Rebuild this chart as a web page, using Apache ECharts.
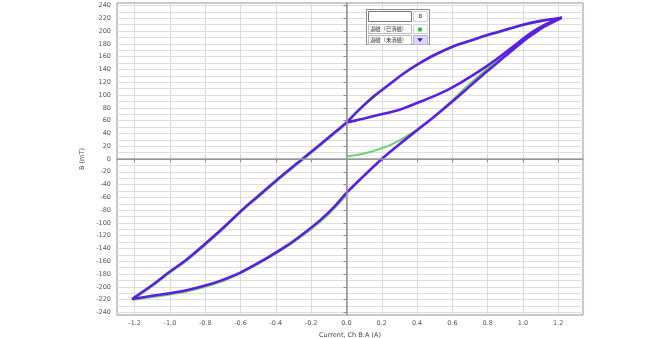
<!DOCTYPE html>
<html><head><meta charset="utf-8">
<script src="https://cdn.jsdelivr.net/npm/echarts@6/dist/echarts.min.js"></script>
<style>html,body{margin:0;padding:0;background:#fff}#c{width:668px;height:338px}</style>
</head><body><div id="c"></div>
<script>
const xTickLabels = [-1.2, -1.0, -0.8, -0.6, -0.4, -0.2, 0.0, 0.2, 0.4, 0.6, 0.8, 1.0, 1.2];
const yTickLabels = [-240, -220, -200, -180, -160, -140, -120, -100, -80, -60, -40, -20, 0, 20, 40, 60, 80, 100, 120, 140, 160, 180, 200, 220, 240];
const yGridValues = [-240, -230, -220, -210, -200, -190, -180, -170, -160, -150, -140, -130, -120, -110, -100, -90, -80, -70, -60, -50, -40, -30, -20, -10, 0, 10, 20, 30, 40, 50, 60, 70, 80, 90, 100, 110, 120, 130, 140, 150, 160, 170, 180, 190, 200, 210, 220, 230, 240];
const legendTitle = 'B';
const seriesNames = ['退磁（已消磁）', '退磁（未消磁）'];
const xName = 'Current, Ch B:A (A)';
const yName = 'B (mT)';

// 已消磁 (demagnetized) : initial curve from origin, then the loop
const greenData = [
  [0, 4], [0.05, 6], [0.1, 8.5], [0.15, 12], [0.2, 17], [0.25, 22], [0.34, 35.5], [0.42, 50], [0.5, 67], [0.55, 79], [0.6, 92], [0.7, 118], [0.8, 142], [0.9, 165], [1.0, 188], [1.1, 206], [1.22, 221],
  [1.1, 215], [1.0, 209], [0.9, 201], [0.8, 193], [0.7, 184], [0.6, 175], [0.5, 162], [0.4, 147], [0.3, 129], [0.2, 107], [0.1, 84], [0, 56], [-0.1, 32], [-0.25, -2], [-0.4, -36], [-0.5, -60], [-0.6, -83], [-0.72, -115], [-0.9, -158], [-1.0, -178], [-1.1, -199], [-1.21, -220],
  [-1.1, -216], [-1.0, -212], [-0.9, -207], [-0.8, -200], [-0.7, -191], [-0.6, -179], [-0.5, -164], [-0.4, -148], [-0.3, -130], [-0.2, -110], [-0.1, -86], [0, -57]
];

// 未消磁 (not demagnetized) : starts from remanence, then the loop
const purpleData = [
  [0, 57], [0.05, 60], [0.1, 63.5], [0.19, 69.5], [0.3, 77], [0.44, 92], [0.55, 105], [0.65, 120], [0.75, 137], [0.85, 156], [0.95, 177], [1.05, 198], [1.13, 211], [1.22, 221],
  [1.1, 216], [1.0, 210], [0.9, 202], [0.81, 195], [0.7, 185], [0.62, 178], [0.5, 163], [0.41, 149], [0.32, 133], [0.24, 116], [0.15, 97], [0.06, 74], [0, 57], [-0.1, 34], [-0.25, 0], [-0.4, -34], [-0.5, -58], [-0.58, -77], [-0.72, -113], [-0.9, -156], [-1.0, -176], [-1.1, -197], [-1.215, -219],
  [-1.1, -214], [-1.0, -210], [-0.9, -205], [-0.8, -198], [-0.72, -191], [-0.62, -180], [-0.53, -167], [-0.44, -153], [-0.34, -136], [-0.25, -118], [-0.15, -96], [-0.07, -75], [0, -53], [0.1, -26], [0.2, 0], [0.3, 23], [0.4, 45], [0.5, 67], [0.6, 90], [0.7, 114], [0.8, 138], [0.9, 161], [1.0, 184], [1.06, 196], [1.12, 207], [1.22, 221]
];

const GREEN = '#6fd16a';
const PURPLE = '#5a1fe0';
const FONT = 'DejaVu Sans';

const chart = echarts.init(document.getElementById('c'), null, {renderer: 'canvas'});
chart.setOption({
  animation: false,
  backgroundColor: '#ffffff',
  grid: {left: 117, right: 85, top: 3, bottom: 23, show: true, containLabel: false, outerBoundsMode: 'none',
    borderColor: '#8c8fa3', borderWidth: 1, backgroundColor: '#fff'},
  xAxis: [{
    type: 'value', min: -1.3, max: 1.34,
    name: xName, nameLocation: 'middle', nameGap: 15,
    nameTextStyle: {fontFamily: FONT, fontSize: 6.5, color: '#444'},
    axisLine: {show: true, lineStyle: {color: '#8c8fa3', width: 1}},
    axisTick: {show: true, length: 3, customValues: xTickLabels, lineStyle: {color: '#888'}},
    axisLabel: {customValues: xTickLabels, fontFamily: FONT, fontSize: 6.5, color: '#555', margin: 5,
      formatter: v => v.toFixed(1)},
    splitLine: {show: true, lineStyle: {color: '#d9d9d9', width: 1}}
  }],
  yAxis: [{
    type: 'value', min: -244, max: 244,
    name: yName, nameLocation: 'middle', nameGap: 29, nameRotate: 90,
    nameTextStyle: {fontFamily: FONT, fontSize: 6.5, color: '#444'},
    axisLine: {show: true, lineStyle: {color: '#8c8fa3', width: 1}},
    axisTick: {show: true, length: 3, customValues: yTickLabels, lineStyle: {color: '#888'}},
    axisLabel: {customValues: yTickLabels, fontFamily: FONT, fontSize: 6.5, color: '#555', margin: 6},
    splitLine: {show: false}
  }, {
    type: 'value', min: -244, max: 244, position: 'left',
    axisLine: {show: false}, axisLabel: {show: false},
    axisTick: {show: false, customValues: yGridValues},
    splitLine: {show: true, lineStyle: {color: '#dedede', width: 1}}
  }],
  series: [{
    type: 'line', name: 'zero', data: [], silent: true, z: 1,
    markLine: {
      silent: true, symbol: 'none', label: {show: false}, animation: false,
      lineStyle: {color: '#9a9a9a', width: 1.5, type: 'solid'},
      data: [{xAxis: 0}, {yAxis: 0}]
    }
  }, {
    type: 'line', name: seriesNames[0], data: greenData, showSymbol: false, smooth: 0.3,
    lineStyle: {color: GREEN, width: 2}, itemStyle: {color: GREEN}, z: 2
  }, {
    type: 'line', name: seriesNames[1], data: purpleData, showSymbol: false, smooth: 0.3,
    lineStyle: {color: PURPLE, width: 2.6}, itemStyle: {color: PURPLE}, z: 3
  }],
  graphic: [
    {type: 'rect', shape: {x: 366.5, y: 9.5, width: 63, height: 35}, style: {fill: '#fff', stroke: '#8a8a8a', lineWidth: 1}, z: 10},
    {type: 'rect', shape: {x: 368.5, y: 11.5, width: 43, height: 10}, style: {fill: '#fff', stroke: '#777', lineWidth: 1}, z: 11},
    {type: 'rect', shape: {x: 413.5, y: 11.5, width: 14, height: 10}, style: {fill: '#fff', stroke: '#d0d0d0', lineWidth: 1}, z: 11},
    {type: 'text', x: 420.5, y: 16.8, style: {text: legendTitle, fontFamily: FONT, fontSize: 5.5, fill: '#333', align: 'center', verticalAlign: 'middle'}, z: 12},
    {type: 'rect', shape: {x: 368.5, y: 24.5, width: 43, height: 9}, style: {fill: '#fff', stroke: '#bdbdbd', lineWidth: 1}, z: 11},
    {type: 'rect', shape: {x: 413.5, y: 24.5, width: 14, height: 9}, style: {fill: '#fff', stroke: '#d0d0d0', lineWidth: 1}, z: 11},
    {type: 'text', x: 370, y: 29.3, style: {text: seriesNames[0], fontFamily: 'Noto Sans CJK SC', fontSize: 5.3, fill: '#333', align: 'left', verticalAlign: 'middle'}, z: 12},
    {type: 'circle', shape: {cx: 420, cy: 29.5, r: 2.3}, style: {fill: '#3cc43c'}, z: 12},
    {type: 'rect', shape: {x: 368.5, y: 35.5, width: 43, height: 9}, style: {fill: '#fff', stroke: '#bdbdbd', lineWidth: 1}, z: 11},
    {type: 'rect', shape: {x: 413.5, y: 35.5, width: 14, height: 9}, style: {fill: '#dcd8f5', stroke: '#b8b0e8', lineWidth: 1}, z: 11},
    {type: 'text', x: 370, y: 40.3, style: {text: seriesNames[1], fontFamily: 'Noto Sans CJK SC', fontSize: 5.3, fill: '#333', align: 'left', verticalAlign: 'middle'}, z: 12},
    {type: 'polygon', shape: {points: [[417.3, 38.3], [422.7, 38.3], [420, 42]]}, style: {fill: '#3a16c8'}, z: 12}
  ]
});
</script>
</body></html>
